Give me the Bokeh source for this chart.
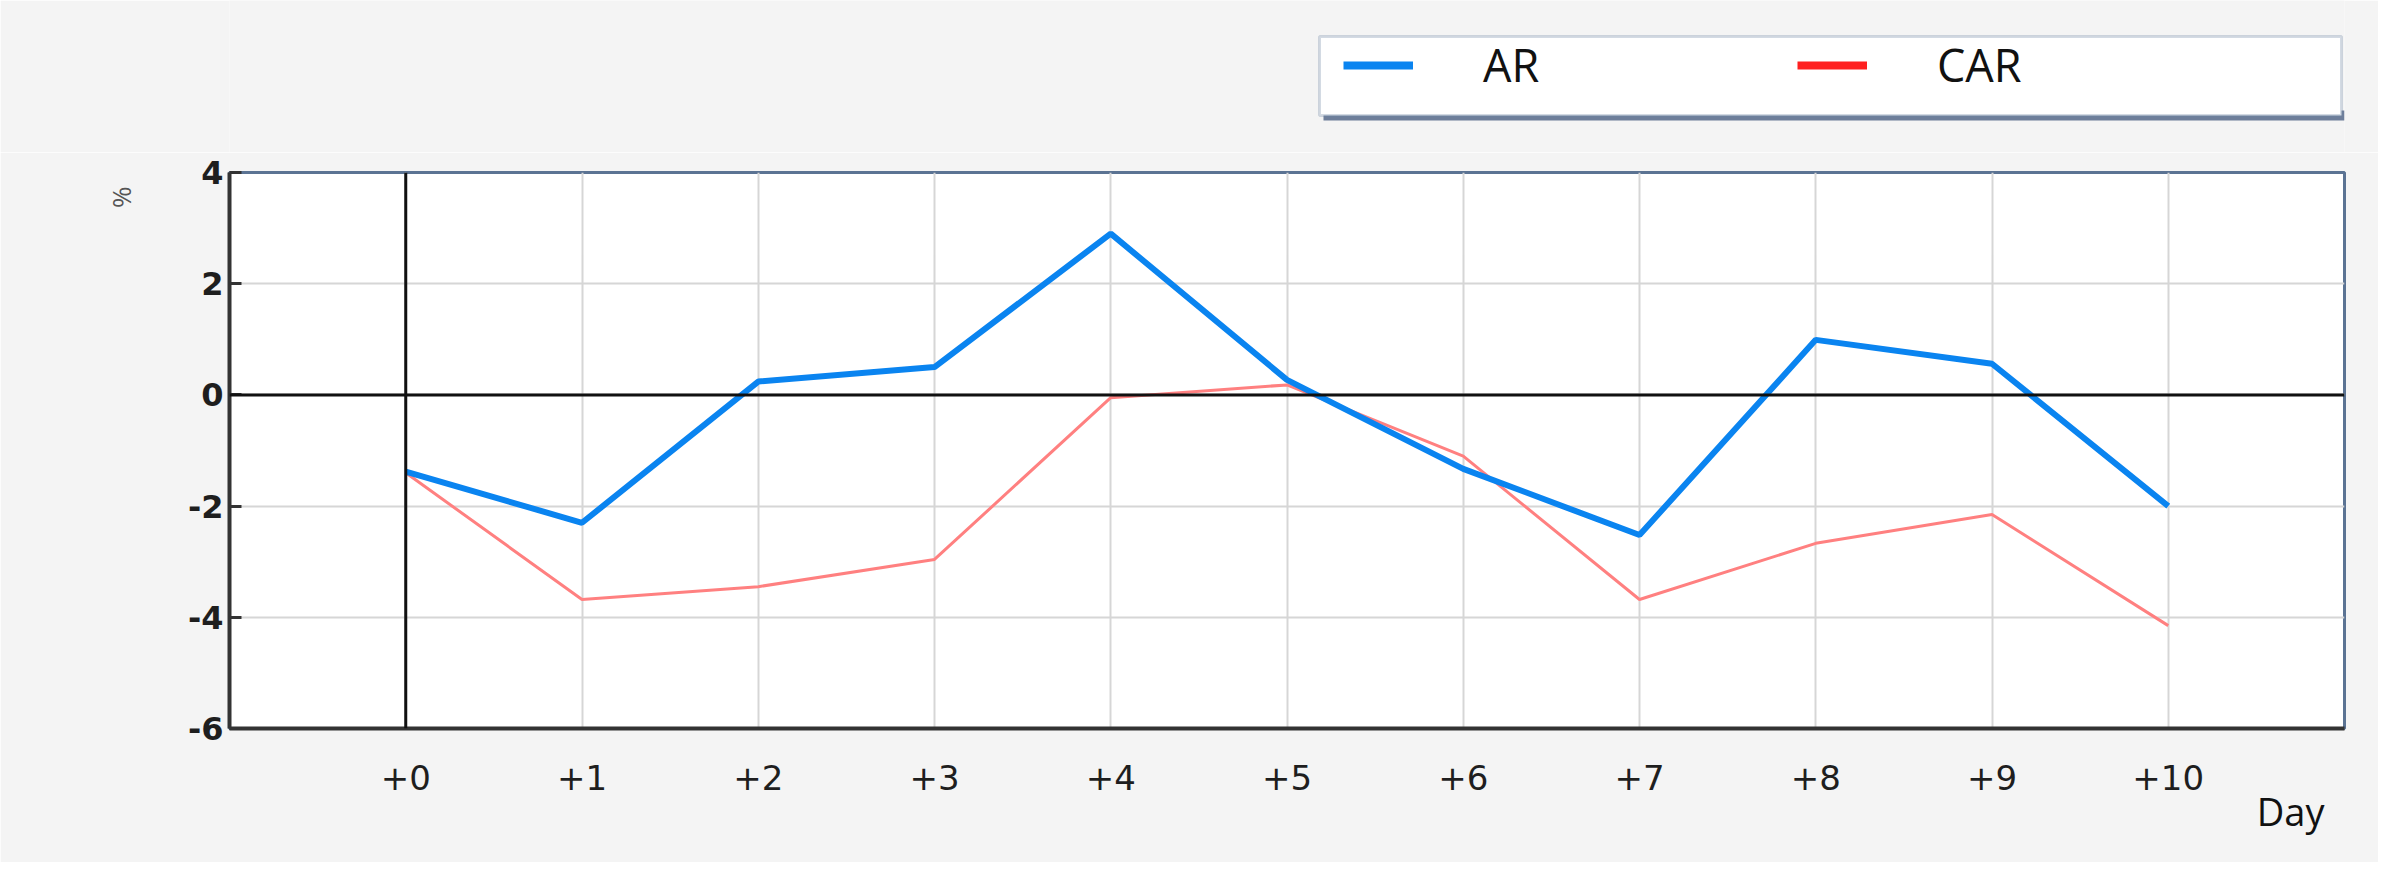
from bokeh.plotting import figure
from bokeh.models import (Range1d, FixedTicker, Span, Legend, LegendItem, Title,
                          BoxAnnotation)
from bokeh.layouts import column
from bokeh.embed import file_html
from bokeh.resources import INLINE

# ---- data ----
days = [0, 1, 2, 3, 4, 5, 6, 7, 8, 9, 10]
day_labels = ["+0", "+1", "+2", "+3", "+4", "+5", "+6", "+7", "+8", "+9", "+10"]
ar = [-1.38, -2.30, 0.24, 0.50, 2.90, 0.27, -1.33, -2.52, 0.99, 0.56, -2.00]
car = [-1.40, -3.68, -3.45, -2.96, -0.05, 0.18, -1.10, -3.68, -2.67, -2.15, -4.15]
y_ticks = [-6, -4, -2, 0, 2, 4]
y_labels = ["-6", "-4", "-2", "0", "2", "4"]

FONT = "Open Sans"
BG = "#f4f4f4"
AR_COLOR = "#0a84f0"

# ---------------- top strip with the legend ----------------
# (its frame is aligned with the main chart's frame by the column layout)
top = figure(width=2378, height=152, output_backend="svg", toolbar_location=None,
             x_range=Range1d(-1, 11), y_range=Range1d(100, 101),
             min_border=0, x_axis_location=None, y_axis_location=None)
top.grid.visible = False
top.outline_line_color = None
top.background_fill_color = BG
top.border_fill_color = BG

# legend frame (shadow + box)
top.add_layout(BoxAnnotation(left=1094, right=2115, bottom=32, top=42,
                             left_units="screen", right_units="screen",
                             top_units="screen", bottom_units="screen",
                             fill_color="#56698a", fill_alpha=0.85,
                             line_color=None))
top.add_layout(BoxAnnotation(left=1090, right=2112, bottom=37, top=116,
                             left_units="screen", right_units="screen",
                             top_units="screen", bottom_units="screen",
                             fill_color="white", fill_alpha=1,
                             line_color="#6d84a3", line_width=3))

r_ar = top.line(days, ar, line_color=AR_COLOR, line_width=8)
r_car = top.line(days, car, line_color="#ff2020", line_width=8)
legend = Legend(items=[LegendItem(label="AR", renderers=[r_ar]),
                       LegendItem(label="CAR", renderers=[r_car])],
                orientation="horizontal", location=(1114, 57),
                glyph_width=70, glyph_height=40, label_height=40,
                label_width=314, label_standoff=70, spacing=0, padding=20,
                margin=0,
                label_text_font=FONT, label_text_font_size="45px",
                label_text_color="#111111",
                border_line_color=None, background_fill_alpha=0)
top.add_layout(legend, "center")

# ---------------- main chart ----------------
p = figure(width=2378, height=710, output_backend="svg", toolbar_location=None,
           x_range=Range1d(-1, 11), y_range=Range1d(-6, 4),
           min_border_left=229, min_border_right=34, min_border_top=20,
           min_border_bottom=134)

p.background_fill_color = "white"
p.border_fill_color = BG
p.outline_line_color = "#5b7393"
p.outline_line_width = 3

p.xaxis.ticker = FixedTicker(ticks=days)
p.yaxis.ticker = FixedTicker(ticks=y_ticks)
p.xaxis.major_label_overrides = {d: lab for d, lab in zip(days, day_labels)}
p.yaxis.major_label_overrides = {t: lab for t, lab in zip(y_ticks, y_labels)}
p.xgrid.grid_line_color = "#d6d6d6"
p.ygrid.grid_line_color = "#d6d6d6"
p.xgrid.grid_line_width = 2
p.ygrid.grid_line_width = 2

for ax in (p.xaxis[0], p.yaxis[0]):
    ax.axis_line_color = "#333333"
    ax.axis_line_width = 4
    ax.major_label_text_font = "DejaVu Sans"
    ax.major_label_text_color = "#1e1e1e"
    ax.minor_tick_line_color = None
p.xaxis.major_label_text_font_size = "34px"
p.yaxis.major_label_text_font_size = "32px"
p.yaxis.major_tick_in = 12
p.yaxis.major_tick_out = 0
p.yaxis.major_tick_line_color = "#333333"
p.yaxis.major_tick_line_width = 3
p.yaxis.major_label_standoff = 6
p.yaxis.major_label_text_font_style = "bold"
p.xaxis.major_tick_in = 0
p.xaxis.major_tick_out = 0
p.xaxis.major_label_standoff = 36

p.add_layout(Span(location=0, dimension="width", line_color="#111111", line_width=3))
p.add_layout(Span(location=0, dimension="height", line_color="#111111", line_width=3))

p.line(days, car, line_color="#ff8080", line_width=3)
p.line(days, ar, line_color=AR_COLOR, line_width=6)

p.add_layout(Title(text="Day", align="right", offset=20, standoff=-19,
                   text_font=FONT, text_font_size="38px",
                   text_font_style="normal", text_color="#111111"), "below")
p.add_layout(Title(text="%", align="right", offset=14, standoff=92,
                   text_font=FONT, text_font_size="26px",
                   text_font_style="normal", text_color="#555555"), "left")

open("out.html", "w").write(file_html(column(top, p, spacing=0), INLINE))
